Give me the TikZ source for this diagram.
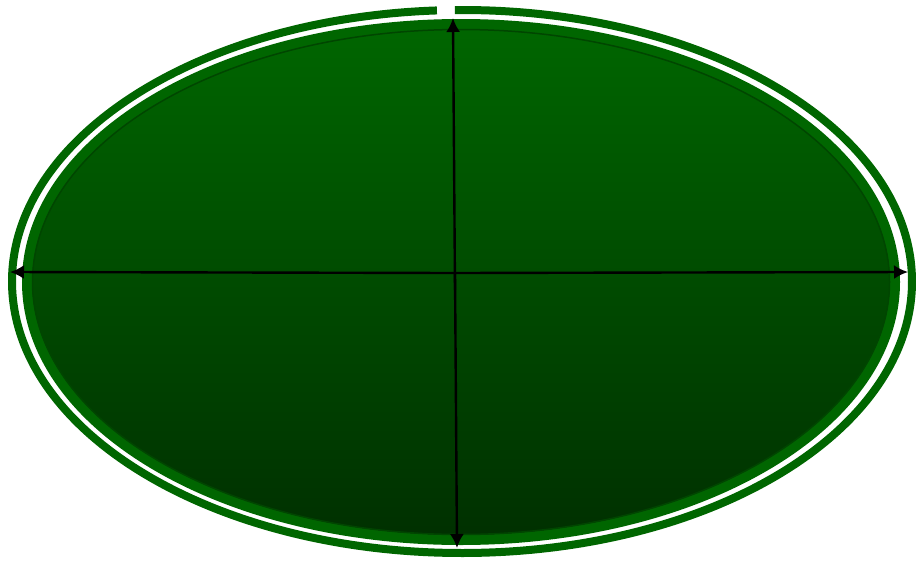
\documentclass[tikz,border=0pt]{standalone}
\usetikzlibrary{arrows.meta}
\definecolor{ringgreen}{RGB}{0,102,0}
\definecolor{topgreen}{RGB}{0,102,0}
\definecolor{botgreen}{RGB}{0,48,0}
\definecolor{edgedark}{RGB}{0,70,0}
\tikzset{
  ring/.style={draw=ringgreen, line width=8pt},
  body/.style={draw=ringgreen, line width=10pt, top color=topgreen, bottom color=botgreen},
  axis/.style={draw=black, line width=2.4pt, -{Latex[length=14pt,width=14pt]}}
}
\begin{document}
\begin{tikzpicture}[x=1pt,y=-1pt]
  \useasboundingbox (0,0) rectangle (916,563);
  % inner filled ellipse
  \path[body] (461,282) ellipse [x radius=434, y radius=258];
  \draw[edgedark, line width=1.5pt] (461,282) ellipse [x radius=428.5, y radius=252.5];
  % outer ring with small gap at top
  \draw[ring] (462,281.5) ++(269.1:450 and 271.5)
     arc [start angle=269.1, end angle=626.8, x radius=450, y radius=271.5];
  % axes
  \coordinate (c) at (455,273);
  \coordinate (cb) at (455,290);
  \coordinate (t) at (453,18);
  \coordinate (b) at (457,548);
  \coordinate (l) at (10,272);
  \coordinate (r) at (908,272);
  \draw[axis] (cb) -- (t);
  \draw[axis] (c) -- (b);
  \draw[axis] (c) -- (l);
  \draw[axis] (c) -- (r);
\end{tikzpicture}
\end{document}
